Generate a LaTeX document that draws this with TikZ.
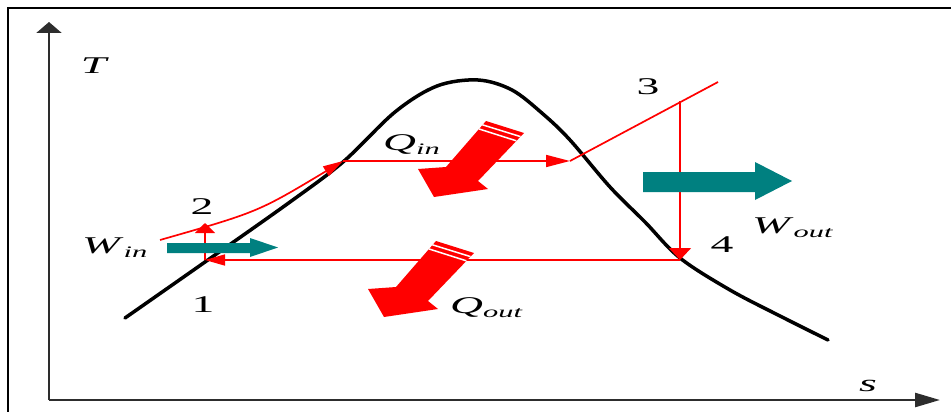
\documentclass[tikz,border=0pt]{standalone}
\usepackage{fontspec}
\setmainfont{Liberation Serif}
\usepackage{graphicx}
\usetikzlibrary{arrows.meta}
\definecolor{tealc}{RGB}{0,128,128}
\definecolor{axisc}{RGB}{45,45,45}
\newcommand{\stretchtxt}[1]{\scalebox{1.9}[1]{#1}}
\newcommand{\lowsub}[1]{\raisebox{-4pt}{\fontsize{16}{18}\selectfont\textit{#1}}}
\begin{document}
\begin{tikzpicture}[x=1pt,y=-1pt,
  lbl/.style={font=\fontsize{24}{28}\selectfont, inner sep=0pt},
  cyc/.style={red, line width=1.7pt},
  axisline/.style={axisc, line width=2.5pt},
  fatarrow/.style={fill=red},
  stripe/.style={white, line width=1.5pt},
  workarrow/.style={fill=tealc}]
\useasboundingbox (0,0) rectangle (951,412);
% frame
\draw[line width=2pt] (8,412) -- (8,8) -- (951,8);
% axes
\coordinate (O) at (49,400);
\coordinate (Tend) at (49,22);
\coordinate (Send) at (940,400);
\draw[axisline, -{Triangle[length=11pt,width=25pt]}] (O) -- (Tend);
\draw[axisline, -{Triangle[length=25pt,width=14pt]}] (O) -- (Send);
% saturation dome
\draw[line width=3.5pt, line cap=round] plot[smooth, tension=0.55] coordinates {(125,318) (205,262) (290,202) (343,162) (395,112) (437,86) (478,80) (512,90) (543,114) (570,140) (610,187) (645,222) (680,258) (730,290) (780,316) (828,340)};
% cycle points
\coordinate (p1) at (205,260);
\coordinate (p2) at (205,223);
\coordinate (p2s) at (160,240);
\coordinate (pf) at (343,161);
\coordinate (pg) at (570,161);
\coordinate (p3) at (680,101);
\coordinate (p3e) at (718,82);
\coordinate (p4) at (680,260);
% cycle
\draw[cyc, -{Triangle[length=20pt,width=11pt]}] (p2s) .. controls (258,212) .. (pf);
\draw[cyc, -{Triangle[length=24pt,width=12pt]}] (pf) -- (pg);
\draw[cyc] (pg) -- (p3e);
\draw[cyc, -{Triangle[length=12pt,width=22pt]}] (p3) -- (p4);
\draw[cyc, -{Triangle[length=20pt,width=11pt]}] (p4) -- (p1);
\draw[cyc, -{Triangle[length=10pt,width=20pt]}] (p1) -- (p2);
% work arrows
\fill[workarrow] (167,243) -- (250,243) -- (250,238) -- (278,247.5) -- (250,257) -- (250,253) -- (167,253) -- cycle;
\fill[workarrow] (643,172) -- (755,172) -- (755,162) -- (792,181) -- (755,200) -- (755,192) -- (643,192) -- cycle;
% heat arrows
\foreach \sx/\sy in {0/0, -50/120} {
\begin{scope}[shift={(\sx,\sy)}]
\fill[fatarrow] (486,121) -- (524,133) -- (478,181) -- (488,189) -- (434,197) -- (418,169) -- (446,167) -- cycle;
\draw[stripe] (482.4,124.8) -- (520.5,136.6);
\draw[stripe] (478.8,128.9) -- (516.3,140.8);
\end{scope}
}
% labels
\node[lbl] (lT) at (95,66) {\stretchtxt{\textit{T}}};
\node[lbl] (ls) at (868,386) {\stretchtxt{\textit{s}}};
\node[lbl] (l1) at (203,305) {\stretchtxt{1}};
\node[lbl] (l2) at (202,207) {\stretchtxt{2}};
\node[lbl] (l3) at (648,87) {\stretchtxt{3}};
\node[lbl] (l4) at (722,245) {\stretchtxt{4}};
\node[lbl, anchor=base west] (lWin) at (82,253) {\stretchtxt{\textit{W}\lowsub{in}}};
\node[lbl, anchor=base west] (lWout) at (752,233) {\stretchtxt{\textit{W}\lowsub{out}}};
\node[lbl, anchor=base west] (lQin) at (383,150) {\stretchtxt{\textit{Q}\lowsub{in}}};
\node[lbl, anchor=base west] (lQout) at (450,313) {\stretchtxt{\textit{Q}\lowsub{out}}};
\end{tikzpicture}
\end{document}
